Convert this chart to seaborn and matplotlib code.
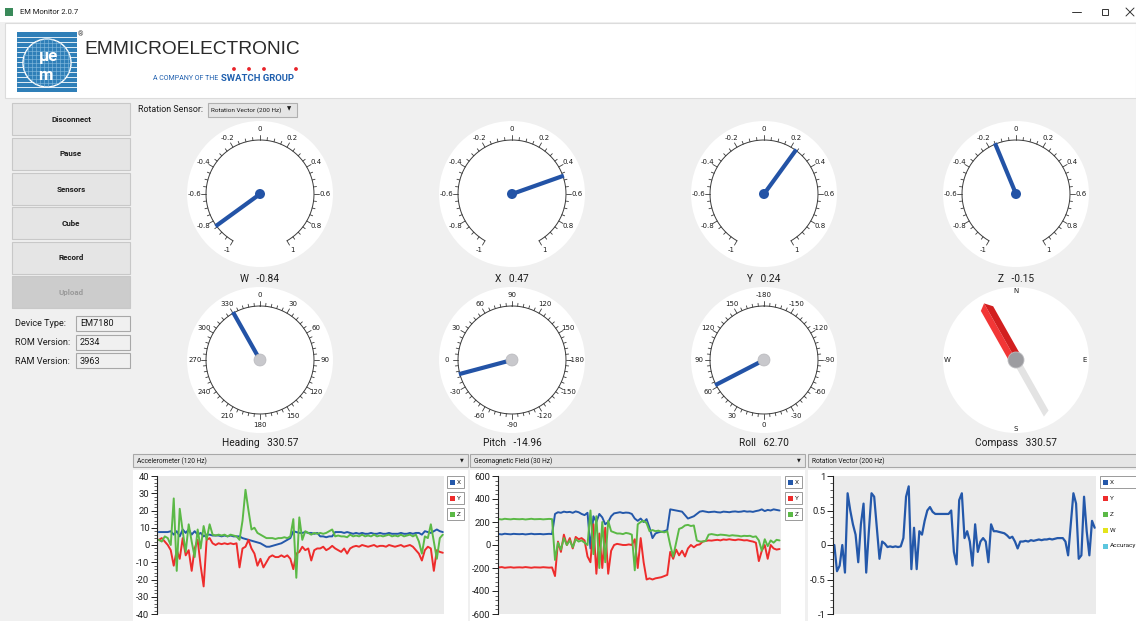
import numpy as np
import pandas as pd
import matplotlib
matplotlib.use("Agg")
import matplotlib.pyplot as plt
from matplotlib.patches import Circle, Rectangle, Polygon
import seaborn as sns

# ---------------- data ----------------
top_names = ['W', 'X', 'Y', 'Z']
top_values = [-0.84, 0.47, 0.24, -0.15]
top_tick_labels = ['-1', '-0.8', '-0.6', '-0.4', '-0.2', '0', '0.2', '0.4', '0.6', '0.8', '1']

angle_names = ['Heading', 'Pitch', 'Roll']
angle_values = [330.57, -14.96, 62.70]
heading_tick_labels = ['0', '30', '60', '90', '120', '150', '180', '210', '240', '270', '300', '330']
pitch_tick_labels = ['90', '120', '150', '-180', '-150', '-120', '-90', '-60', '-30', '0', '30', '60']
roll_tick_labels = ['-180', '-150', '-120', '-90', '-60', '-30', '0', '30', '60', '90', '120', '150']
compass_value = 330.57
compass_letters = ['N', 'E', 'S', 'W']

buttons = ['Disconnect', 'Pause', 'Sensors', 'Cube', 'Record', 'Upload']
device_fields = ['Device Type:', 'ROM Version:', 'RAM Version:']
device_values = ['EM7180', '2534', '3963']

accel_x = [7.5, 7.5, 7.5, 7.5, 8,
           6, 8, 5, 9, 7, 9, 6, 8, 6, 7, 5, 6, 6,
           5.5, 5.5, 5.5, 5, 5.5, 5, 5.5, 5, 5, 5,
           4, 3.5, 3, 2.5, 2, 1.5, 1, 0, -1, -1,
           -0.5, 0, 0.5, 1, 2, 3, 4,
           8, 7.5, 7, 7, 7.5, 7, 7, 6.5, 7,
           5, 5, 4.5, 5, 5,
           7.5, 7.5, 7.5, 7, 7.5, 7,
           6.5, 7, 6.5, 7, 6.5, 6.5, 7, 6.5, 6.5, 7, 6.5, 6.5, 7, 6.5, 6.5, 6.5, 7, 6.5, 6.5, 7, 6.5, 7,
           7, 6, 8, 7.5, 7, 8, 9, 8, 7.5]
accel_y = [3, 4, 2, 0, -3,
           -12, -3, -8, 4, -6, -3, -15, -2, 3, -12, -24, 3, 4,
           1, 0, 1, 0.5, 1, 0.5, 1, 0.5, 1, -13,
           -2, -1, 3, -2, -5, -12, -8, -13, -10, -7,
           -6, -7, -7, -6, -7, -6, -8,
           -14, -5, -4, -1, -3, -2, -9, -3, -2,
           -2, -1, -3, -2, -0.5,
           -2, -3, -4, -2, -5, -2,
           -1, -0.5, -1, 0, -0.5, -1, -0.5, 0, -1, -0.5, -0.5, -1, 0, -0.5, -1, -0.5, 0, -1, -0.5, 0, -1, -3,
           -5, -9, -3, -1, -2, -15, -3, -4, -4.5]
accel_z = [3, 2, 5, 4, 0,
           27, -15, 21, 8, -4, 12, 2, -7, 9, -2, 11, 3, 12,
           6, 5.5, 6, 5.5, 6, 5, 6, 5.5, 5, 3,
           14, 32, 20, 9, 10, 7, 6, 5, 4, 4,
           4, 3.5, 4, 4, 4.5, 4, 5,
           15, -19, 16, 3, 8, 7, 6, 7, 6.5,
           7, 6.5, 7, 8, 9,
           5, 5.5, 5, 5, 4.5, 6,
           5, 5.5, 5, 6, 5, 5.5, 5, 6, 5, 5.5, 5, 5.5, 6, 5, 5.5, 5, 6, 5, 5.5, 6, 5, 6,
           2, -5, 5, 4, 12, 2, -8, 4, 6]

geo_x = [95, 92, 98, 95, 93, 97, 95, 94, 96, 92, 95, 98, 94, 95, 96, 93, 95, 97, 95,
         270, 285, 280, 290, 285, 288, 280, 292, 285, 270, 260, 280,
         -30, 250, 200, 270, 240, 180, 200,
         250, 275, 280, 285, 278, 282, 280, 270,
         230, 210, 230, 200, 225, 150,
         60, 100, 110, 115, 120, 130,
         310, 305, 300, 295, 290, 260,
         230, 240, 250, 270, 290,
         295, 290, 285, 288, 290, 285, 283, 290, 288, 285, 290, 292, 288, 290, 295, 290,
         292, 288, 295, 300, 310, 295, 305, 300, 310, 305, 300]
geo_y = [-195, -192, -198, -195, -193, -197, -195, -194, -196, -192, -195, -198, -194, -195, -196, -193, -195, -197, -195,
         -270, 30, -60, 90, 0, 60, -30, 70, 50, 60, 40, -100,
         -150, 180, -250, 100, -200, 150, -250,
         -50, 0, 10, 5, 0, 0, 5, 0,
         50, -200, 60, -150, -300, -290,
         -300, -290, -285, -280, -270, -260,
         -60, -120, -40, -90, -50, -100,
         -30, 0, -20, 0, 5,
         30, 35, 40, 38, 42, 45, 40, 48, 45, 50, 45, 42, 48, 45, 40, 42,
         35, 30, 20, -140, -50, 0, -120, 0, -30, -40, -35]
geo_z = [225, 222, 228, 225, 223, 227, 225, 224, 226, 222, 225, 228, 224, 225, 226, 223, 225, 227, 225,
         -130, 20, -40, 60, 0, 40, -20, 50, 30, 40, 20, 0,
         300, -80, 250, -200, 200, -150, 210,
         120, 110, 100, 100, 95, 105, 100, 90,
         -220, 180, 200, 210, 190, 120,
         130, 120, 125, 115, 110, 120,
         0, -100, 20, 140, 150, 170,
         175, 165, 170, 40, 30,
         30, 35, 90, 95, 90, 85, 90, 88, 85, 80, 85, 82, 80, 75, 80, 78,
         80, 70, 75, 40, -50, 50, -10, 40, 20, 45, 40]

rot_x = [0.0, -0.38, -0.3, 0.0, -0.4, 0.75, 0.5, 0.3, 0.15, -0.25,
         0.3, 0.6, -0.4, 0.2, 0.75, 0.7, 0.25, -0.2, 0.05, 0.02,
         -0.03, -0.02, -0.03, -0.02, -0.03, -0.02, 0.1, 0.7, 0.85, -0.35,
         0.25, -0.35, 0.2, 0.15, 0.35, 0.5, 0.55, 0.48, 0.45, 0.45,
         0.45, 0.45, 0.45, 0.45, 0.5, -0.1, -0.28, 0.65, 0.75, 0.1,
         0.2, 0.05, -0.3, 0.3, -0.1, 0.05, 0.1, 0.05, -0.25, 0.3,
         0.2, 0.2, 0.19, 0.18, 0.17, 0.14, 0.1, 0.12, 0.05, -0.05,
         0.05, 0.05, 0.06, 0.05, 0.07, 0.06, 0.07, 0.08, 0.07, 0.08,
         0.08, 0.09, 0.08, 0.09, 0.1, 0.1, 0.1, 0.05, -0.15, 0.3,
         0.75, 0.6, -0.2, -0.15, 0.7, 0.2, -0.15, 0.35, 0.25]

accel_ticks = [-40, -30, -20, -10, 0, 10, 20, 30, 40]
geo_ticks = [-600, -400, -200, 0, 200, 400, 600]
rot_ticks = [-1, -0.5, 0, 0.5, 1]
rot_tick_labels = ['-1', '-0.5', '0', '0.5', '1']
xyz_names = ['X', 'Y', 'Z']
rot_legend_names = ['X', 'Y', 'Z', 'W', 'Accuracy']

BLUE = '#2458aa'
RED = '#ee2c2c'
GREEN = '#5bb946'
YELLOW = '#e4e41c'
CYAN = '#5cc6de'
NEEDLE = '#2353a6'
TXT = '#1c1c1c'

# ---------------- figure ----------------
sns.set_theme(style="white")
plt.rcParams['font.family'] = ['Roboto', 'DejaVu Sans']

W_PX, H_PX = 1136, 621
fig = plt.figure(figsize=(11.36, 6.21), dpi=100)
fig.patch.set_facecolor('#f0f0f0')
bg = fig.add_axes([0, 0, 1, 1])
bg.set_xlim(0, W_PX)
bg.set_ylim(H_PX, 0)
bg.axis('off')


def px_axes(x0, y0, x1, y1):
    return fig.add_axes([x0 / W_PX, 1 - y1 / H_PX, (x1 - x0) / W_PX, (y1 - y0) / H_PX])


def rect(x, y, w, h, fc, ec='none', lw=0.8, z=1):
    bg.add_patch(Rectangle((x, y), w, h, fc=fc, ec=ec, lw=lw, zorder=z))


# title bar + header
rect(0, 0, W_PX, 22, 'white')
rect(5, 8, 8, 8, '#3a8a5a')
bg.text(20, 12, 'EM Monitor 2.0.7', fontsize=5.5, color=TXT, va='center')
bg.plot([1072, 1081], [12, 12], color='#333', lw=0.7)
rect(1102, 9, 6, 6, 'none', ec='#333', lw=0.7)
bg.plot([1126, 1134], [8, 16], color='#333', lw=0.7)
bg.plot([1126, 1134], [16, 8], color='#333', lw=0.7)
rect(5, 23, W_PX - 5, 75, 'white', ec='#dcdcdc')

# logo
rect(17, 32, 60, 60, '#2f7fb8', z=2)
for yy in np.arange(37, 92, 5):
    bg.plot([17, 77], [yy, yy], color='white', lw=0.6, zorder=3)
disc = Circle((47, 63), 24, fc='#2f7fb8', ec='white', lw=1.0, zorder=4)
bg.add_patch(disc)
for k in np.arange(24, 72, 4):
    l1, = bg.plot([k, k], [38, 88], color='#8cbfe0', lw=0.4, zorder=5)
    l2, = bg.plot([22, 72], [k + 15, k + 15], color='#8cbfe0', lw=0.4, zorder=5)
    l1.set_clip_path(disc)
    l2.set_clip_path(disc)
bg.text(48, 56, 'μe', fontsize=12, color='white', weight='bold', ha='center', va='center', zorder=6)
bg.text(45, 75, 'm', fontsize=12, color='white', weight='bold', ha='center', va='center', zorder=6)
bg.text(80, 35, '®', fontsize=5, color='#333', ha='center', va='center')
bg.text(84, 49, 'EMMICROELECTRONIC', fontsize=13.8, color='#2a2a2a', va='center',
        family=['Liberation Sans', 'DejaVu Sans'])
bg.text(153, 78.5, 'A COMPANY OF THE', fontsize=5, color='#1f5fae', va='center')
bg.text(221, 78.5, 'SWATCH GROUP', fontsize=6.8, color='#1f5fae', weight='bold', va='center')
for dx in [234, 249, 264, 296]:
    bg.add_patch(Circle((dx, 69), 1.9, fc='#e8232a', ec='none', zorder=3))

# left panel
btn_y = [103, 138, 173, 207, 242, 276]
for name, y0 in zip(buttons, btn_y):
    off = name == 'Upload'
    rect(12, y0, 118, 32, '#cccccc' if off else '#e5e5e5', ec='#c8c8c8')
    bg.text(71, y0 + 16, name, fontsize=5.8, weight='bold', ha='center', va='center',
            color='#9a9a9a' if off else TXT)
for i, (lab, val) in enumerate(zip(device_fields, device_values)):
    y0 = 316 + i * 18.5
    bg.text(15, y0 + 8, lab, fontsize=6.6, color=TXT, va='center')
    rect(76, y0, 54, 15, '#f0f0f0', ec='#a8a8a8')
    bg.text(80, y0 + 8, val, fontsize=6.6, color=TXT, va='center')

bg.text(138, 110, 'Rotation Sensor:', fontsize=6.4, color=TXT, va='center')
rect(208, 103, 89, 14, '#e5e5e5', ec='#b0b0b0')
bg.text(211, 110, 'Rotation Vector (200 Hz)', fontsize=4.6, color=TXT, va='center')
bg.text(289, 109, '▼', fontsize=4, color=TXT, ha='center', va='center', family=['DejaVu Sans'])


# ---------------- dials ----------------
def pt(cx, cy, r, deg):
    a = np.radians(deg)
    return cx + r * np.sin(a), cy - r * np.cos(a)


def dial(cx, cy, start, stop, minor_step, major_step, labels, needle_deg, hub):
    bg.add_patch(Circle((cx, cy), 73, fc='white', ec='none', zorder=2))
    ang = np.linspace(start, stop, 300)
    xs, ys = pt(cx, cy, 54, ang)
    bg.plot(xs, ys, color='#3a3a3a', lw=0.7, zorder=3)
    n_minor = int(round((stop - start) / minor_step))
    per = int(round(major_step / minor_step))
    full = (stop - start) >= 360
    for k in range(n_minor + (0 if full else 1)):
        a = start + k * minor_step
        ln = 5 if k % per == 0 else 3
        x0, y0 = pt(cx, cy, 54, a)
        x1, y1 = pt(cx, cy, 54 + ln, a)
        bg.plot([x0, x1], [y0, y1], color='#3a3a3a', lw=0.6, zorder=3)
    for j, lab in enumerate(labels):
        lx, ly = pt(cx, cy, 65, start + j * major_step)
        bg.text(lx, ly, lab, fontsize=5, color=TXT, ha='center', va='center', zorder=3,
                family=['DejaVu Sans'])
    ex, ey = pt(cx, cy, 55, needle_deg)
    bg.plot([cx, ex], [cy, ey], color=NEEDLE, lw=3.0, solid_capstyle='butt', zorder=4)
    if hub == 'blue':
        bg.add_patch(Circle((cx, cy), 5, fc=NEEDLE, ec='none', zorder=5))
    else:
        bg.add_patch(Circle((cx, cy), 6, fc='#c8c8cc', ec='#b8b8bc', lw=0.5, zorder=5))


top_cx = [260, 512, 764, 1016]
for cx, name, v in zip(top_cx, top_names, top_values):
    dial(cx, 194, -150, 150, 7.5, 30, top_tick_labels, 150 * v, 'blue')
    bg.text(cx, 279, f'{name}   {v:.2f}', fontsize=7.3, color=TXT, ha='center', va='center')

angle_labels = [heading_tick_labels, pitch_tick_labels, roll_tick_labels]
angle_offsets = [0, -90, 180]
for cx, name, v, labs, off in zip(top_cx, angle_names, angle_values, angle_labels, angle_offsets):
    dial(cx, 360, 0, 360, 6, 30, labs, v + off, 'gray')
    bg.text(cx, 443, f'{name}   {v:.2f}', fontsize=7.3, color=TXT, ha='center', va='center')

# compass
ccx, ccy = 1016, 360
bg.add_patch(Circle((ccx, ccy), 73, fc='white', ec='none', zorder=2))
for j, let in enumerate(compass_letters):
    lx, ly = pt(ccx, ccy, 69, j * 90)
    bg.text(lx, ly, let, fontsize=5, color=TXT, ha='center', va='center', zorder=3,
            family=['DejaVu Sans'])
th = np.radians(compass_value)
u = np.array([np.sin(th), -np.cos(th)])
nv = np.array([np.cos(th), np.sin(th)])
c = np.array([ccx, ccy])
bg.add_patch(Polygon([c + nv * 3.5, c - nv * 3.5, c - nv * 3.5 - u * 63, c + nv * 3.5 - u * 60],
                     closed=True, fc='#e3e3e3', ec='none', zorder=3))
bg.add_patch(Polygon([c, c - nv * 6.5, c - nv * 6.5 + u * 60, c + u * 65],
                     closed=True, fc='#f23636', ec='none', zorder=4))
bg.add_patch(Polygon([c, c + nv * 6.5, c + nv * 6.5 + u * 58, c + u * 65],
                     closed=True, fc='#d21f1f', ec='none', zorder=4))
bg.add_patch(Circle((ccx, ccy), 8, fc='#9c9ca0', ec='#bdbdc0', lw=0.6, zorder=5))
bg.text(ccx, 443, f'Compass   {compass_value:.2f}', fontsize=7.3, color=TXT, ha='center', va='center')

# ---------------- charts ----------------
panels = [(133, 468, 'Accelerometer (120 Hz)'),
          (470, 805, 'Geomagnetic Field (30 Hz)'),
          (808, 1140, 'Rotation Vector (200 Hz)')]
for x0, x1, title in panels:
    rect(x0, 454, x1 - x0, 13, '#e6e6e6', ec='#a8a8a8')
    bg.text(x0 + 4, 461, title, fontsize=4.8, color=TXT, va='center')
    if x1 < 1136:
        bg.text(x1 - 6, 460, '▼', fontsize=3.5, color=TXT, ha='center', va='center',
                family=['DejaVu Sans'])
    rect(x0, 470, x1 - x0, 151, 'white')


def chart(box, df, cols, colors, ylim, ticks, minor_step, labels, xlim, lw):
    ax = px_axes(*box)
    ax.set_facecolor('#ebebeb')
    for col, colr in zip(cols, colors):
        sns.lineplot(data=df, x='t', y=col, color=colr, linewidth=lw, ax=ax)
    ax.set_xlim(*xlim)
    ax.set_ylim(*ylim)
    ax.set_yticks(ticks)
    ax.set_yticklabels(labels)
    ax.set_yticks(np.arange(ylim[0], ylim[1] + minor_step / 2, minor_step), minor=True)
    ax.set_xticks([])
    ax.set_xlabel('')
    ax.set_ylabel('')
    for s in ['top', 'right', 'bottom']:
        ax.spines[s].set_visible(False)
    ax.spines['left'].set_color('#222')
    ax.spines['left'].set_linewidth(0.8)
    ax.tick_params(axis='y', which='major', left=True, direction='out', length=4, width=0.7,
                   labelsize=6.8, pad=1.5, colors='#222')
    ax.tick_params(axis='y', which='minor', left=True, direction='out', length=2, width=0.5,
                   colors='#222')
    return ax


accel_df = pd.DataFrame({'t': np.arange(len(accel_x)), 'X': accel_x, 'Y': accel_y, 'Z': accel_z})
geo_df = pd.DataFrame({'t': np.arange(len(geo_x)), 'X': geo_x, 'Y': geo_y, 'Z': geo_z})
rot_df = pd.DataFrame({'t': np.arange(len(rot_x)), 'X': rot_x})

chart((157, 476, 444, 614), accel_df, xyz_names, [BLUE, RED, GREEN], (-40, 40), accel_ticks, 2,
      [str(t) for t in accel_ticks], (-0.6, 95.4), 1.4)
chart((498, 476, 781, 614), geo_df, xyz_names, [BLUE, RED, GREEN], (-600, 600), geo_ticks, 40,
      [str(t) for t in geo_ticks], (-0.3, 95.5), 1.4)
chart((833, 476, 1096, 614), rot_df, ['X'], [BLUE], (-1, 1), rot_ticks, 0.1,
      rot_tick_labels, (-0.5, 98.5), 1.6)


def legend_item(x, y, colr, name, boxed, w=17):
    if boxed:
        rect(x, y - 6, w, 12, 'white', ec='#9a9a9a', lw=0.7)
    rect(x + 3, y - 2.5, 5, 5, colr)
    bg.text(x + 10, y, name, fontsize=4.6, color=TXT, va='center')


for i, (nm, colr) in enumerate(zip(xyz_names, [BLUE, RED, GREEN])):
    legend_item(447, 482 + 16 * i, colr, nm, True)
    legend_item(785, 482 + 16 * i, colr, nm, True)
for i, (nm, colr) in enumerate(zip(rot_legend_names, [BLUE, RED, GREEN, YELLOW, CYAN])):
    legend_item(1100, 482 + 16 * i, colr, nm, i == 0, w=40)

fig.savefig('out.png', dpi=100, facecolor=fig.get_facecolor())
